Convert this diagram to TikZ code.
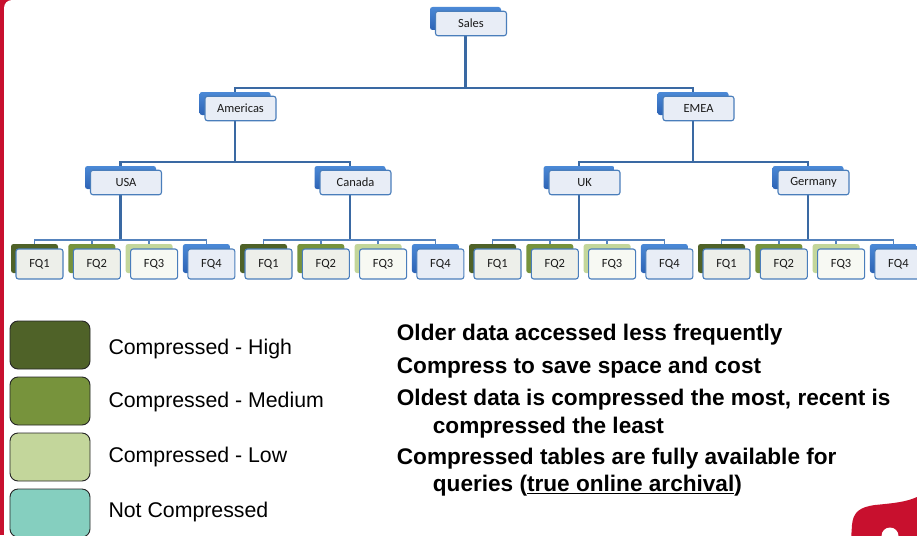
\documentclass[tikz,border=0pt]{standalone}
\usepackage{fontspec}
\setmainfont{Liberation Sans}
\newfontfamily\boxfont{Carlito}
\pgfdeclarelayer{frame}
\pgfdeclarelayer{bg}
\pgfsetlayers{frame,bg,main}
\definecolor{brandred}{RGB}{200,16,46}
\definecolor{cmphigh}{HTML}{4F6228}
\definecolor{cmpmed}{HTML}{77933C}
\definecolor{cmplow}{HTML}{C3D69B}
\definecolor{cmpnone}{HTML}{85CFBF}
\definecolor{bluetop}{HTML}{4B89D6}
\definecolor{bluebot}{HTML}{2D63B5}
\definecolor{frontline}{HTML}{4A7EBB}
\definecolor{frontblue}{HTML}{E8EDF6}
\definecolor{fronthigh}{HTML}{EDEFEA}
\definecolor{frontmed}{HTML}{EEF0E9}
\definecolor{frontlow}{HTML}{F7F9F3}
\definecolor{linkcol}{HTML}{3A69A3}
\definecolor{leaflink}{HTML}{5583BD}
\definecolor{textdark}{HTML}{1A1A1A}
\begin{document}
\begin{tikzpicture}[x=1pt,y=-1pt,
  backbox/.style={rectangle, rounded corners=2.5, inner sep=0, draw=none},
  upperback/.style={backbox, minimum width=71, minimum height=23,
    top color=bluetop, bottom color=bluebot},
  frontbox/.style={rectangle, rounded corners=2.5, inner sep=0,
    draw=frontline, line width=1.1, text=textdark,
    font=\boxfont\fontsize{12.5}{14}\selectfont},
  upperfront/.style={frontbox, fill=frontblue, minimum width=71, minimum height=24.5},
  leafback/.style={backbox, minimum width=47, minimum height=29},
  leaffront/.style={frontbox, minimum width=47, minimum height=30},
  link/.style={draw=linkcol, line width=2.1},
  leaflinkstyle/.style={draw=leaflink, line width=1.5},
  legbox/.style={rectangle, rounded corners=8, draw=black!85, line width=0.9,
    minimum width=80, minimum height=48, inner sep=0},
  legtext/.style={anchor=base west, inner sep=0, font=\fontsize{21.3}{24}\selectfont},
  bodytext/.style={anchor=base west, inner sep=0, font=\bfseries\fontsize{22.6}{26}\selectfont}
]
\useasboundingbox (0,0) rectangle (917,535);
\clip (0,0) rectangle (917,535);

\begin{pgfonlayer}{frame}
% slide frame: red edge on the left, white panel with a rounded corner
\fill[brandred] (0,0) rectangle (30,535);
\fill[white, rounded corners=8] (4,570) -- (4,0) -- (950,0) -- (950,570) -- cycle;
% logo fragment, bottom right
\fill[brandred] (851,540) -- (852,525)
  .. controls (853,512) and (860,507) .. (875,505)
  .. controls (895,503) and (906,502) .. (917,497)
  -- (917,540) -- cycle;
\fill[white] (890,536) circle[radius=8.5];
\end{pgfonlayer}

% ---- hierarchy boxes (back tab + front label) ----
\node[upperback] (salesB) at (465.5,18.5) {};
\node[upperfront] (sales) at (471,23.5) {Sales};

\node[upperback] (amB) at (235,103.5) {};
\node[upperfront] (am) at (240.5,108.5) {Americas};
\node[upperback] (emB) at (693,103.5) {};
\node[upperfront] (em) at (698.5,108.5) {EMEA};

\node[upperback] (usaB) at (120.5,177.5) {};
\node[upperfront] (usa) at (126,182.5) {USA};
\node[upperback] (canB) at (350,177.5) {};
\node[upperfront] (can) at (355.5,182.5) {Canada};
\node[upperback] (ukB) at (579,177.5) {};
\node[upperfront] (uk) at (584.5,182.5) {UK};
\node[upperback] (geB) at (808,177.5) {};
\node[upperfront] (ge) at (813.5,182.5) {Germany};

% fiscal quarters under each country
\foreach \g/\cty in {0/usa,1/can,2/uk,3/ge}{
  \foreach \i/\bk/\fr in {0/cmphigh/fronthigh,1/cmpmed/frontmed,2/cmplow/frontlow,3/blue/frontblue}{
    \pgfmathsetmacro{\cx}{34.5+57.3*\i+229*\g}
    \ifnum\i=3
      \node[leafback, top color=bluetop, bottom color=bluebot] (\cty-q\i-B) at (\cx,258.5) {};
    \else
      \node[leafback, fill=\bk] (\cty-q\i-B) at (\cx,258.5) {};
    \fi
    \pgfmathtruncatemacro{\q}{\i+1}
    \node[leaffront, fill=\fr] (\cty-q\i) at (\cx+5,264) {FQ\q};
  }
}

% ---- connectors ----
\coordinate (busA) at (0,88);
\coordinate (busB) at (0,162);
\coordinate (busC) at (0,240);
\begin{pgfonlayer}{bg}
  \draw[link] (salesB.center) -- (salesB.center |- busA) -| (amB.north);
  \draw[link] (salesB.center |- busA) -| (emB.north);
  \draw[link] (amB.center) -- (amB.center |- busB) -| (usaB.north);
  \draw[link] (amB.center |- busB) -| (canB.north);
  \draw[link] (emB.center) -- (emB.center |- busB) -| (ukB.north);
  \draw[link] (emB.center |- busB) -| (geB.north);
  \foreach \cty in {usa,can,uk,ge}{
    \draw[link] (\cty B.center) -- (\cty B.center |- busC);
    \foreach \i in {0,1,2,3}{
      \draw[leaflinkstyle] (\cty B.center |- busC) -| (\cty-q\i-B.north);
    }
  }
\end{pgfonlayer}

% ---- legend ----
\node[legbox, fill=cmphigh] (lhigh) at (50,345) {};
\node[legbox, fill=cmpmed] (lmed) at (50,401) {};
\node[legbox, fill=cmplow] (llow) at (50,457) {};
\node[legbox, fill=cmpnone] (lnone) at (50,513) {};
\node[legtext] (thigh) at (108.3,354) {Compressed - High};
\node[legtext] (tmed) at (108.3,407.3) {Compressed - Medium};
\node[legtext] (tlow) at (108.3,462.7) {Compressed - Low};
\node[legtext] (tnone) at (108.3,517.3) {Not Compressed};

% ---- notes ----
\node[bodytext] (n1) at (396.7,340.7) {Older data accessed less frequently};
\node[bodytext] (n2) at (396.7,373.3) {Compress to save space and cost};
\node[bodytext] (n3) at (396.7,405.7) {Oldest data is compressed the most, recent is};
\node[bodytext] (n3b) at (432.7,433.3) {compressed the least};
\node[bodytext] (n4) at (396.7,464) {Compressed tables are fully available for};
\node[bodytext] (n4b) at (432.7,491.7) {queries (\underline{true online archival})};
\end{tikzpicture}
\end{document}
